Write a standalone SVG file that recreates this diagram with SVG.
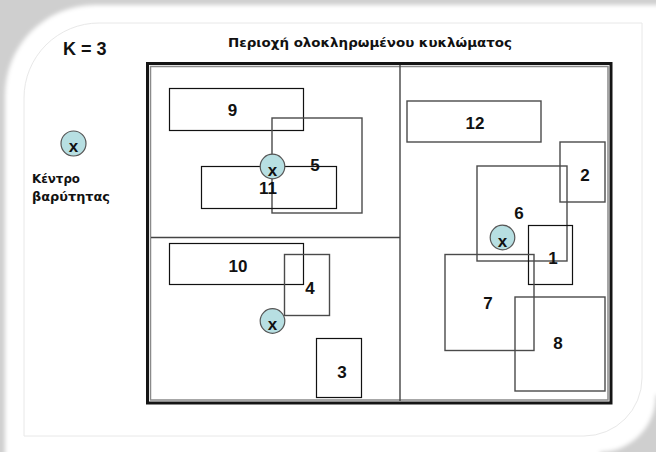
<svg xmlns="http://www.w3.org/2000/svg" width="656" height="452" viewBox="0 0 656 452">
  <defs>
    <filter id="soft" x="-5%" y="-5%" width="110%" height="110%">
      <feGaussianBlur stdDeviation="2.2"/>
    </filter>
    <style>
      .blk { fill: none; stroke: #111; stroke-width: 1.2; }
      .gry { fill: none; stroke: #4a4a4a; stroke-width: 1.4; }
      .num { font-family: "Liberation Sans", Arial, sans-serif; font-weight: bold; font-size: 17px; fill: #111; text-anchor: middle; }
      .lbl { font-family: "DejaVu Sans", "Liberation Sans", sans-serif; font-weight: bold; font-size: 12.5px; fill: #111; }
      .cen circle { fill: #b7dfe2; stroke: #555; stroke-width: 1.2; }
      .cen text { font-family: "Liberation Sans", Arial, sans-serif; font-weight: bold; font-size: 17px; fill: #111; text-anchor: middle; }
      .div { stroke: #444; stroke-width: 1.4; fill: none; }
    </style>
  </defs>

  <!-- page card with soft shadow -->
  <rect x="0" y="0" width="656" height="452" fill="#cfcfcf"/>
  <path d="M5,95 A90,90 0 0 1 95,5 L680,5 L680,395 L656,395 A56,57 0 0 1 600,452 L600,480 L5,480 Z" fill="#ffffff" filter="url(#soft)"/>
  <path d="M24,98 A75,75 0 0 1 99,23 L642,23 L642,378 A58,58 0 0 1 584,436 L24,436 Z" fill="none" stroke="#e8e8e8" stroke-width="1"/>

  <!-- headings -->
  <text x="63" y="55" font-family="Liberation Sans, Arial, sans-serif" font-weight="bold" font-size="18" fill="#111">K = 3</text>
  <text class="lbl" x="228" y="47" textLength="284" lengthAdjust="spacingAndGlyphs">Περιοχή ολοκληρωμένου κυκλώματος</text>

  <!-- legend -->
  <g id="legend" class="cen">
    <circle cx="73.5" cy="143.5" r="12.5"/>
    <text x="73.5" y="152" font-size="18">x</text>
  </g>
  <text class="lbl" x="32" y="183" textLength="48" lengthAdjust="spacingAndGlyphs">Κέντρο</text>
  <text class="lbl" x="32" y="201" textLength="78" lengthAdjust="spacingAndGlyphs">βαρύτητας</text>

  <!-- chip outline and partition lines -->
  <g id="chip">
    <rect x="147.5" y="63.5" width="463.5" height="339.5" fill="none" stroke="#151515" stroke-width="3"/>
    <rect x="150.5" y="66.5" width="457.5" height="333.5" fill="none" stroke="#8a8a8a" stroke-width="1.5"/>
    <line class="div" x1="400" y1="65" x2="400" y2="401"/>
    <line class="div" x1="151" y1="237.5" x2="400" y2="237.5"/>
  </g>

  <g id="connectors"/>

  <!-- modules -->
  <g id="m9"><rect class="blk" x="169.5" y="88.5" width="134" height="42"/><text class="num" x="232.5" y="115.5">9</text></g>
  <g id="m5"><rect class="gry" x="272" y="118" width="90" height="95"/><text class="num" x="315" y="170.5">5</text></g>
  <g id="m11"><rect class="blk" x="201.5" y="166.5" width="135" height="42"/><text class="num" x="268" y="193.5">11</text></g>
  <g id="m10"><rect class="blk" x="169.5" y="243.5" width="134" height="41"/><text class="num" x="238" y="271.5">10</text></g>
  <g id="m4"><rect class="gry" x="284.5" y="254.5" width="45" height="61"/><text class="num" x="310" y="293.5">4</text></g>
  <g id="m3"><rect class="blk" x="316.5" y="338.5" width="45" height="59"/><text class="num" x="342" y="377.5">3</text></g>
  <g id="m12"><rect class="gry" x="407" y="101" width="134" height="41"/><text class="num" x="475" y="128.5">12</text></g>
  <g id="m2"><rect class="gry" x="560" y="142" width="45" height="60"/><text class="num" x="585" y="180.5">2</text></g>
  <g id="m6"><rect class="gry" x="477" y="166" width="90" height="95"/><text class="num" x="519" y="218.5">6</text></g>
  <g id="m1"><rect class="blk" x="528.5" y="225.5" width="44" height="59"/><text class="num" x="553" y="263.5">1</text></g>
  <g id="m7"><rect class="gry" x="445" y="254.5" width="89" height="96"/><text class="num" x="488" y="308.5">7</text></g>
  <g id="m8"><rect class="gry" x="515" y="297" width="90" height="94"/><text class="num" x="558" y="348.5">8</text></g>

  <!-- centres of gravity -->
  <g id="c1" class="cen"><circle cx="272.5" cy="166.5" r="12.3"/><text x="272.5" y="175.5">x</text></g>
  <g id="c2" class="cen"><circle cx="272.5" cy="321" r="12.3"/><text x="272.5" y="330">x</text></g>
  <g id="c3" class="cen"><circle cx="502.5" cy="237.5" r="12.3"/><text x="502.5" y="246.5">x</text></g>
</svg>
